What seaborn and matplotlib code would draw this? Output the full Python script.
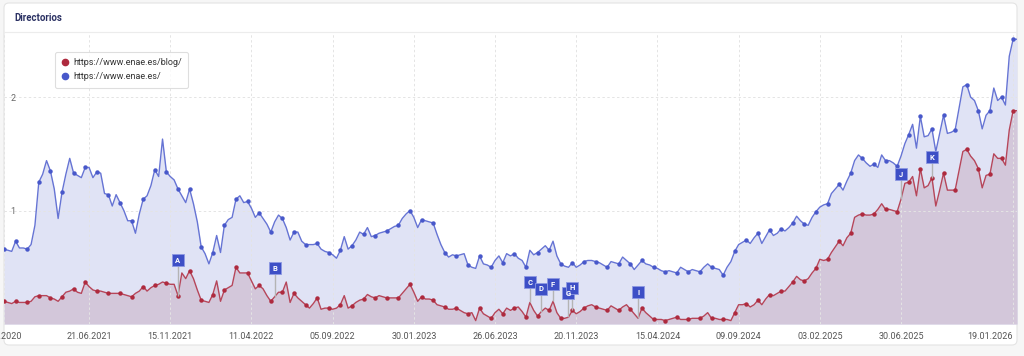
import numpy as np
import pandas as pd
import seaborn as sns
import matplotlib.pyplot as plt
from matplotlib.lines import Line2D
from matplotlib.patches import FancyBboxPatch
from matplotlib.transforms import ScaledTranslation

# weekly values (one value per week, 263 weeks)
blue = [0.66, 0.65, 0.64, 0.73, 0.67, 0.67, 0.66, 0.70, 0.87, 1.25,
        1.32, 1.44, 1.35, 1.19, 0.93, 1.16, 1.32, 1.46, 1.33, 1.31,
        1.29, 1.38, 1.38, 1.29, 1.34, 1.33, 1.15, 1.14, 1.04, 1.14,
        1.07, 1.00, 0.91, 0.91, 0.80, 0.97, 1.10, 1.13, 1.22, 1.36,
        1.30, 1.63, 1.34, 1.30, 1.27, 1.19, 1.13, 1.07, 1.19, 1.06,
        0.90, 0.68, 0.62, 0.53, 0.63, 0.78, 0.63, 0.87, 0.92, 0.94,
        1.10, 1.13, 1.07, 1.08, 1.02, 0.94, 0.98, 0.93, 0.88, 0.81,
        0.90, 0.96, 0.93, 0.85, 0.74, 0.81, 0.81, 0.73, 0.70, 0.70,
        0.70, 0.71, 0.66, 0.64, 0.63, 0.61, 0.58, 0.65, 0.77, 0.66,
        0.69, 0.74, 0.81, 0.79, 0.85, 0.77, 0.78, 0.80, 0.81, 0.82,
        0.84, 0.86, 0.87, 0.93, 0.97, 1.00, 0.94, 0.85, 0.92, 0.91,
        0.90, 0.89, 0.79, 0.70, 0.63, 0.59, 0.61, 0.60, 0.61, 0.62,
        0.52, 0.50, 0.49, 0.60, 0.53, 0.52, 0.50, 0.56, 0.60, 0.54,
        0.62, 0.60, 0.62, 0.58, 0.56, 0.50, 0.65, 0.61, 0.63, 0.66,
        0.69, 0.65, 0.73, 0.60, 0.53, 0.51, 0.50, 0.54, 0.50, 0.52,
        0.55, 0.56, 0.56, 0.55, 0.54, 0.52, 0.50, 0.55, 0.54, 0.53,
        0.59, 0.56, 0.53, 0.48, 0.52, 0.56, 0.53, 0.52, 0.50, 0.49,
        0.47, 0.46, 0.47, 0.46, 0.45, 0.50, 0.48, 0.46, 0.48, 0.47,
        0.46, 0.50, 0.53, 0.50, 0.49, 0.48, 0.43, 0.50, 0.55, 0.64,
        0.70, 0.72, 0.74, 0.71, 0.76, 0.80, 0.71, 0.77, 0.83, 0.78,
        0.80, 0.84, 0.82, 0.85, 0.89, 0.95, 0.91, 0.88, 0.87, 0.94,
        0.99, 1.03, 1.05, 1.06, 1.15, 1.19, 1.23, 1.18, 1.26, 1.33,
        1.44, 1.49, 1.46, 1.42, 1.39, 1.41, 1.38, 1.49, 1.44, 1.44,
        1.42, 1.39, 1.48, 1.59, 1.67, 1.76, 1.55, 1.83, 1.65, 1.66,
        1.72, 1.52, 1.68, 1.84, 1.68, 1.69, 1.71, 1.90, 2.09, 2.11,
        2.00, 1.97, 1.88, 1.72, 1.84, 1.88, 2.08, 1.97, 2.00, 1.93,
        2.36, 2.51, 2.51]

red = [0.20, 0.19, 0.18, 0.20, 0.19, 0.19, 0.19, 0.20, 0.24, 0.25,
       0.25, 0.25, 0.23, 0.22, 0.20, 0.24, 0.28, 0.29, 0.31, 0.28,
       0.27, 0.37, 0.33, 0.30, 0.29, 0.29, 0.28, 0.27, 0.27, 0.27,
       0.27, 0.26, 0.25, 0.24, 0.27, 0.29, 0.33, 0.29, 0.32, 0.34,
       0.35, 0.37, 0.36, 0.35, 0.35, 0.25, 0.45, 0.40, 0.47, 0.40,
       0.30, 0.21, 0.20, 0.19, 0.26, 0.38, 0.20, 0.30, 0.32, 0.34,
       0.50, 0.45, 0.45, 0.45, 0.38, 0.31, 0.34, 0.31, 0.25, 0.20,
       0.24, 0.28, 0.28, 0.37, 0.19, 0.27, 0.23, 0.20, 0.17, 0.14,
       0.18, 0.23, 0.13, 0.14, 0.14, 0.13, 0.14, 0.17, 0.25, 0.14,
       0.16, 0.19, 0.21, 0.22, 0.26, 0.24, 0.23, 0.25, 0.24, 0.23,
       0.23, 0.23, 0.23, 0.27, 0.31, 0.35, 0.28, 0.20, 0.24, 0.22,
       0.22, 0.21, 0.17, 0.16, 0.15, 0.13, 0.13, 0.14, 0.12, 0.10,
       0.09, 0.10, 0.03, 0.14, 0.09, 0.07, 0.05, 0.10, 0.13, 0.09,
       0.14, 0.12, 0.14, 0.15, 0.11, 0.06, 0.19, 0.12, 0.07, 0.11,
       0.14, 0.12, 0.20, 0.10, 0.05, 0.05, 0.06, 0.12, 0.09, 0.11,
       0.14, 0.16, 0.17, 0.15, 0.14, 0.13, 0.12, 0.16, 0.14, 0.12,
       0.15, 0.17, 0.13, 0.09, 0.05, 0.14, 0.10, 0.07, 0.04, 0.04,
       0.04, 0.03, 0.04, 0.05, 0.06, 0.04, 0.04, 0.04, 0.05, 0.05,
       0.05, 0.07, 0.10, 0.05, 0.05, 0.04, 0.04, 0.04, 0.03, 0.10,
       0.17, 0.17, 0.18, 0.15, 0.17, 0.21, 0.17, 0.22, 0.26, 0.25,
       0.27, 0.29, 0.29, 0.33, 0.37, 0.42, 0.39, 0.38, 0.40, 0.45,
       0.49, 0.57, 0.56, 0.57, 0.63, 0.68, 0.73, 0.69, 0.76, 0.80,
       0.94, 0.96, 0.97, 0.96, 0.96, 0.97, 1.01, 1.06, 1.01, 1.01,
       1.00, 0.99, 1.10, 1.24, 1.25, 1.30, 1.13, 1.37, 1.20, 1.22,
       1.29, 1.04, 1.18, 1.33, 1.18, 1.18, 1.18, 1.35, 1.52, 1.54,
       1.48, 1.44, 1.37, 1.20, 1.31, 1.32, 1.50, 1.46, 1.46, 1.40,
       1.71, 1.88, 1.88]

series_labels = ["https://www.enae.es/blog/", "https://www.enae.es/"]

tick_idx = [0, 22, 43, 64, 85, 106, 127, 148, 169, 190, 211, 232, 261]
tick_labels = ["28.12.2020", "21.06.2021", "15.11.2021", "11.04.2022",
               "05.09.2022", "30.01.2023", "26.06.2023", "20.11.2023",
               "15.04.2024", "09.09.2024", "03.02.2025", "30.06.2025",
               "19.01.2026"]

# event flags: letter, week index, height of the flag box
flag_letters = ["A", "B", "C", "D", "F", "G", "H", "I", "J", "K"]
flag_idx = [45, 70, 136, 139, 142, 146, 147, 164, 232, 240]
flag_y = [0.56, 0.49, 0.37, 0.31, 0.35, 0.27, 0.32, 0.28, 1.32, 1.47]

df = pd.DataFrame({"week": np.arange(len(blue)), "blue": blue, "red": red})

sns.set_style("white")
plt.rcParams["font.family"] = ["Roboto", "DejaVu Sans"]

fig = plt.figure(figsize=(10.24, 3.56), dpi=100, facecolor="#f6f6f6")

# white card behind the chart
card = FancyBboxPatch((0.04, 0.11), 10.13, 3.42,
                      boxstyle="round,pad=0,rounding_size=0.05",
                      transform=fig.dpi_scale_trans, facecolor="white",
                      edgecolor="#e4e4e4", linewidth=0.8, zorder=-10)
fig.add_artist(card)
fig.add_artist(Line2D([4 / 1024, 1017 / 1024], [324 / 356, 324 / 356],
                      color="#ececec", lw=0.8, transform=fig.transFigure))
fig.text(14 / 1024, 338 / 356, "Directorios", fontsize=6.9, fontweight="bold",
         color="#2b3163", va="center")

ax = fig.add_axes([4 / 1024, 32 / 356, 1013 / 1024, 291 / 356])
ax.set_facecolor("none")

# areas
ax.fill_between(df["week"], 0, df["blue"], color="#e0e3f5", lw=0, zorder=0.3)
ax.fill_between(df["week"], 0, df["red"], color="#d3c7da", lw=0, zorder=0.4)

# lines
sns.lineplot(data=df, x="week", y="blue", ax=ax, color="#6674d4", linewidth=1.0,
             marker="o", markevery=3, markersize=3.2, markerfacecolor="#4858ca",
             markeredgewidth=0, zorder=3)
sns.lineplot(data=df, x="week", y="red", ax=ax, color="#b6465a", linewidth=1.0,
             marker="o", markevery=3, markersize=3.2, markerfacecolor="#ae2a3e",
             markeredgewidth=0, zorder=3)

# flags
for letter, i, yb in zip(flag_letters, flag_idx, flag_y):
    ax.plot([i, i], [red[i], yb], color="#b4b4b4", lw=1.0, zorder=4,
            solid_capstyle="butt")
    ax.plot(i, yb, marker="s", markersize=8, markerfacecolor="#3d4fc6",
            markeredgecolor="#8d99e2", markeredgewidth=0.6, zorder=5)
    ax.text(i, yb, letter, ha="center", va="center", fontsize=5.5,
            fontweight="bold", color="white", zorder=6)

# axes, ticks, grid
ax.set_xlim(0, len(blue) - 1)
ax.set_ylim(0, 2.565)
ax.set_xlabel("")
ax.set_ylabel("")
for s in ax.spines.values():
    s.set_visible(False)

ax.set_xticks(tick_idx)
ax.set_xticklabels(tick_labels)
ax.set_yticks([1, 2])
ax.set_yticklabels(["1", "2"])
ax.tick_params(axis="x", length=0, pad=6, labelsize=6.5, labelcolor="#555555")
ax.tick_params(axis="y", length=0, pad=-4.5, labelsize=6.5, labelcolor="#666666")
for lbl in ax.get_yticklabels():
    lbl.set_horizontalalignment("left")
xl = ax.get_xticklabels()
xl[-1].set_horizontalalignment("right")
xl[0].set_transform(xl[0].get_transform() +
                    ScaledTranslation(-5 / 100, 0, fig.dpi_scale_trans))

ax.set_axisbelow("line")
ax.grid(True, color="#e4e4e4", linestyle=(0, (2.5, 2.5)), linewidth=0.7)

# legend
handles = [Line2D([], [], ls="", marker="o", markersize=4.5, color="#ae2a3e"),
           Line2D([], [], ls="", marker="o", markersize=4.5, color="#4858ca")]
leg = ax.legend(handles, series_labels, loc="upper left",
                bbox_to_anchor=(51 / 1013, 1 - 19 / 291), borderaxespad=0,
                fontsize=6.5, handlelength=0.8, handletextpad=0.5,
                borderpad=0.7, labelspacing=0.55, frameon=True, fancybox=True)
leg.get_frame().set_edgecolor("#d6d6d6")
leg.get_frame().set_linewidth(0.8)
for t in leg.get_texts():
    t.set_color("#333333")

fig.savefig("out.png", dpi=100, facecolor=fig.get_facecolor())
